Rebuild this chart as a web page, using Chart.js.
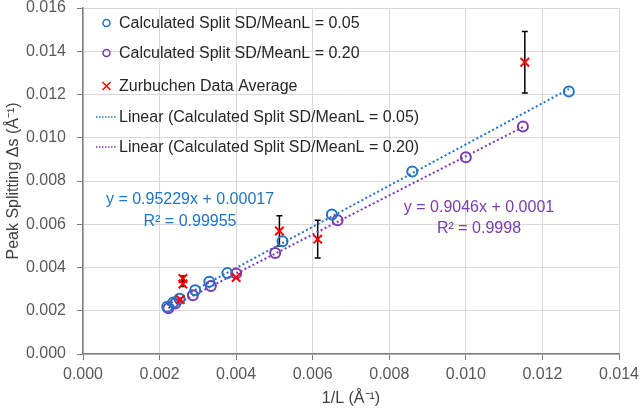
<!DOCTYPE html>
<html><head><meta charset="utf-8">
<script src="https://cdn.jsdelivr.net/npm/chart.js@4.4.1/dist/chart.umd.min.js"></script>
<style>html,body{margin:0;padding:0;background:#fff}</style>
</head><body>
<canvas id="c" width="640" height="411"></canvas>
<script>
// ---- data ----
const seriesNames = [
  'Calculated Split SD/MeanL = 0.05',
  'Calculated Split SD/MeanL = 0.20',
  'Zurbuchen Data Average',
  'Linear (Calculated Split SD/MeanL = 0.05)',
  'Linear (Calculated Split SD/MeanL = 0.20)'
];
const blueX = [0.00220, 0.00236, 0.00252, 0.00293, 0.00330, 0.00377, 0.00521, 0.00650, 0.00860, 0.01269];
const blueY = [0.00218, 0.00238, 0.00255, 0.00295, 0.00334, 0.00374, 0.00521, 0.00645, 0.00844, 0.01214];
const purpleX = [0.00223, 0.00241, 0.00287, 0.00334, 0.00400, 0.00502, 0.00665, 0.01000, 0.01149];
const purpleY = [0.00211, 0.00234, 0.00272, 0.00314, 0.00372, 0.00467, 0.00618, 0.00910, 0.01052];
const redX = [0.00261, 0.00261, 0.00254, 0.00400, 0.00513, 0.00613, 0.01154];
const redY = [0.00349, 0.00324, 0.00252, 0.00354, 0.00569, 0.00531, 0.01349];
const redErr = [0.00012, 0.00012, 0, 0, 0.00070, 0.00087, 0.00142];
const fitSlope = [0.95229, 0.9046];
const fitIntercept = [0.00017, 0.0001];
const fitText = [['y = 0.95229x + 0.00017', 'R\u00B2 = 0.99955'], ['y = 0.9046x + 0.0001', 'R\u00B2 = 0.9998']];
const xTickValues = [0, 0.002, 0.004, 0.006, 0.008, 0.010, 0.012, 0.014];
const yTickValues = [0, 0.002, 0.004, 0.006, 0.008, 0.010, 0.012, 0.014, 0.016];
const xTitle = '1/L (\u00C5\u207B\u00B9)';
const yTitle = 'Peak Splitting \u0394s (\u00C5\u207B\u00B9)';

// ---- styles ----
const BLUE = '#1F74C4';
const PURPLE = '#7A3BAE';
const RED = '#FF0000';
const FONT = "'Liberation Sans', Arial, sans-serif";

const pts = (xs, ys) => xs.map((x, i) => ({x: x, y: ys[i]}));
const fitLine = (xs, k) => {
  const lo = Math.min(...xs), hi = Math.max(...xs);
  return [{x: lo, y: fitSlope[k] * lo + fitIntercept[k]}, {x: hi, y: fitSlope[k] * hi + fitIntercept[k]}];
};

const errorBars = {
  id: 'errorBars',
  beforeDatasetsDraw(chart) {
    const {ctx, scales: {x, y}} = chart;
    ctx.save();
    ctx.strokeStyle = '#000';
    ctx.lineWidth = 1.5;
    redX.forEach((vx, i) => {
      if (!redErr[i]) return;
      const px = x.getPixelForValue(vx);
      const top = y.getPixelForValue(redY[i] + redErr[i]);
      const bot = y.getPixelForValue(redY[i] - redErr[i]);
      ctx.beginPath();
      ctx.moveTo(px, top); ctx.lineTo(px, bot);
      ctx.moveTo(px - 3, top); ctx.lineTo(px + 3, top);
      ctx.moveTo(px - 3, bot); ctx.lineTo(px + 3, bot);
      ctx.stroke();
    });
    ctx.restore();
  }
};

const overlay = {
  id: 'overlay',
  afterDraw(chart) {
    const ctx = chart.ctx;
    ctx.save();
    ctx.font = '16px ' + FONT;
    ctx.textBaseline = 'middle';
    ctx.textAlign = 'left';
    const rows = [23, 53, 86, 117, 147];
    const symX = 106.5, textX = 119;
    rows.forEach((ry, i) => {
      ctx.fillStyle = '#262626';
      ctx.fillText(seriesNames[i], textX, ry + 1);
      ctx.lineWidth = 1.5;
      if (i === 0 || i === 1) {
        ctx.strokeStyle = i === 0 ? BLUE : PURPLE;
        ctx.beginPath(); ctx.arc(symX, ry, 3.5, 0, Math.PI * 2); ctx.stroke();
      } else if (i === 2) {
        ctx.strokeStyle = RED;
        ctx.beginPath();
        ctx.moveTo(symX - 4, ry - 4); ctx.lineTo(symX + 4, ry + 4);
        ctx.moveTo(symX + 4, ry - 4); ctx.lineTo(symX - 4, ry + 4);
        ctx.stroke();
      } else {
        ctx.strokeStyle = i === 3 ? BLUE : PURPLE;
        ctx.lineWidth = 1.5;
        ctx.setLineDash([1.5, 1.5]);
        ctx.beginPath(); ctx.moveTo(96, ry); ctx.lineTo(117, ry); ctx.stroke();
        ctx.setLineDash([]);
      }
    });
    // trendline equations
    ctx.textAlign = 'center';
    ctx.fillStyle = BLUE;
    ctx.fillText(fitText[0][0], 190, 200);
    ctx.fillText(fitText[0][1], 190, 222);
    ctx.fillStyle = PURPLE;
    ctx.fillText(fitText[1][0], 479, 208);
    ctx.fillText(fitText[1][1], 479, 229);
    ctx.restore();
  }
};

new Chart(document.getElementById('c'), {
  type: 'scatter',
  data: {
    datasets: [
      {label: seriesNames[2], data: pts(redX, redY), pointStyle: 'crossRot', pointRadius: 6,
       borderColor: RED, backgroundColor: RED, pointBorderWidth: 2, order: 0},
      {label: seriesNames[0], data: pts(blueX, blueY), pointStyle: 'circle', pointRadius: 5,
       borderColor: BLUE, backgroundColor: 'rgba(0,0,0,0)', pointBorderWidth: 2, order: 1},
      {label: seriesNames[1], data: pts(purpleX, purpleY), pointStyle: 'circle', pointRadius: 5,
       borderColor: PURPLE, backgroundColor: 'rgba(0,0,0,0)', pointBorderWidth: 2, order: 2},
      {label: seriesNames[3], data: fitLine(blueX, 0), showLine: true, pointRadius: 0,
       borderColor: BLUE, borderWidth: 2, borderDash: [2, 2.5], order: 3},
      {label: seriesNames[4], data: fitLine(purpleX, 1), showLine: true, pointRadius: 0,
       borderColor: PURPLE, borderWidth: 2, borderDash: [2, 2.5], order: 4}
    ]
  },
  options: {
    responsive: false,
    animation: false,
    layout: {padding: 0},
    plugins: {legend: {display: false}, tooltip: {enabled: false}},
    scales: {
      x: {
        type: 'linear', min: 0, max: 0.014,
        afterBuildTicks: s => { s.ticks = xTickValues.map(v => ({value: v})); },
        afterFit: s => { s.height = 57; s.paddingLeft = 0; s.paddingRight = 21; },
        ticks: {font: {family: FONT, size: 16}, color: '#595959', padding: 5,
                maxRotation: 0, callback: v => Number(v).toFixed(3)},
        grid: {color: '#D9D9D9', lineWidth: 1, tickLength: 6, tickColor: '#7F7F7F'},
        border: {color: '#7F7F7F', width: 1.5},
        title: {display: true, text: xTitle, font: {family: FONT, size: 16}, color: '#404040',
                padding: {top: 3, bottom: 3}}
      },
      y: {
        type: 'linear', min: 0, max: 0.016,
        afterBuildTicks: s => { s.ticks = yTickValues.map(v => ({value: v})); },
        afterFit: s => { s.width = 83; s.paddingTop = 7; s.paddingBottom = 0; },
        ticks: {font: {family: FONT, size: 16}, color: '#595959', padding: 11,
                callback: v => Number(v).toFixed(3)},
        grid: {color: '#D9D9D9', lineWidth: 1, tickLength: 6, tickColor: '#7F7F7F'},
        border: {color: '#7F7F7F', width: 1.5},
        title: {display: true, text: yTitle, font: {family: FONT, size: 16}, color: '#404040',
                padding: {top: 4, bottom: 2}}
      }
    }
  },
  plugins: [errorBars, overlay]
});
</script>
</body></html>
